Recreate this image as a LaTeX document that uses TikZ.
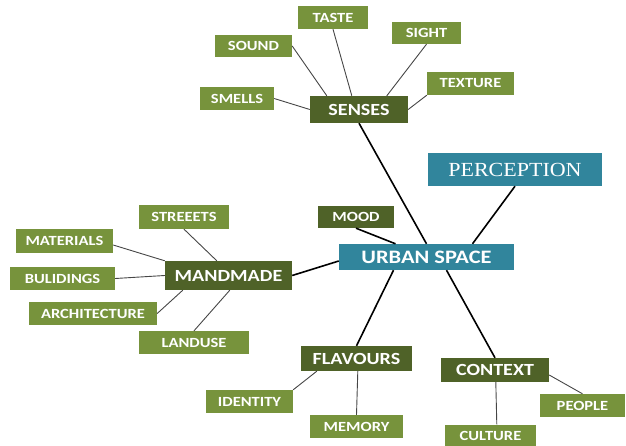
\documentclass[tikz,border=0pt]{standalone}
\usepackage{fontspec}
\setmainfont{Carlito}[FakeStretch=1.18]
\newfontfamily\percfont{Liberation Serif}[FakeStretch=1.1]
\usepackage{tikz}
\usetikzlibrary{calc}
\definecolor{LeafGreen}{RGB}{119,147,60}
\definecolor{DarkGreen}{RGB}{79,98,40}
\definecolor{TealBlue}{RGB}{49,133,156}
\definecolor{LinkGray}{RGB}{70,70,70}

\begin{document}
\begin{tikzpicture}[x=1pt,y=-1pt,
    leaf/.style={fill=LeafGreen, text=white, inner sep=0pt, minimum height=23pt,
      font=\fontsize{14}{14}\selectfont\bfseries},
    branch/.style={fill=DarkGreen, text=white, inner sep=0pt, minimum height=26pt,
      font=\fontsize{17}{17}\selectfont\bfseries},
    hub/.style={fill=TealBlue, text=white, inner sep=0pt, minimum height=26pt,
      font=\fontsize{19}{19}\selectfont\bfseries},
    mainlink/.style={black, line width=1.6pt},
    sublink/.style={LinkGray, line width=0.9pt}]
    \useasboundingbox (0,0) rectangle (626,446);
    %%Centre
    \node[hub, minimum width=175pt] (urban) at (426.5,257) {URBAN SPACE};
    \node[hub, minimum width=174pt, minimum height=33pt, font=\percfont\fontsize{20}{20}\selectfont]
      (perception) at (515,169.5) {PERCEPTION};
    %%Branches
    \node[branch, minimum width=98pt, minimum height=27pt] (senses) at (359,109.5) {SENSES};
    \node[branch, minimum width=76pt, minimum height=22pt, font=\fontsize{14}{14}\selectfont\bfseries]
      (mood) at (356,217) {MOOD};
    \node[branch, minimum width=127pt, minimum height=29pt] (mandmade) at (228.5,275.5) {MANDMADE};
    \node[branch, minimum width=111pt, minimum height=25pt] (flavours) at (356.5,358.5) {FLAVOURS};
    \node[branch, minimum width=108pt, minimum height=24pt] (context) at (495,370) {CONTEXT};
    %%Senses
    \node[leaf, minimum width=70pt] (taste) at (333,17.5) {TASTE};
    \node[leaf, minimum width=77pt, minimum height=22pt] (sound) at (253.5,46) {SOUND};
    \node[leaf, minimum width=69pt, minimum height=22pt] (sight) at (426.5,33) {SIGHT};
    \node[leaf, minimum width=87pt] (texture) at (470.5,83.5) {TEXTURE};
    \node[leaf, minimum width=74pt] (smells) at (237,98.5) {SMELLS};
    %%Mandmade
    \node[leaf, minimum width=90pt, minimum height=24pt] (streeets) at (184,217) {STREEETS};
    \node[leaf, minimum width=97pt, minimum height=24pt] (materials) at (64.5,241) {MATERIALS};
    \node[leaf, minimum width=105pt] (bulidings) at (62.5,278.5) {BULIDINGS};
    \node[leaf, minimum width=128pt] (architecture) at (93,313.5) {ARCHITECTURE};
    \node[leaf, minimum width=110pt] (landuse) at (194,342.5) {LANDUSE};
    %%Flavours and context
    \node[leaf, minimum width=87pt] (identity) at (249.5,401.5) {IDENTITY};
    \node[leaf, minimum width=93pt] (memory) at (356.5,426.5) {MEMORY};
    \node[leaf, minimum width=85pt] (people) at (582.5,405.5) {PEOPLE};
    \node[leaf, minimum width=91pt] (culture) at (490.5,436) {CULTURE};
    %%Main links
    \draw[mainlink] (senses.south) -- (urban.north);
    \draw[mainlink] (perception.south) -- ([xshift=46pt]urban.north);
    \draw[mainlink] (mood.south) -- ([xshift=-31pt]urban.north);
    \draw[mainlink] (mandmade.east) -- ([yshift=-4pt]urban.west);
    \draw[mainlink] ([xshift=-33pt]urban.south) -- (flavours.north);
    \draw[mainlink] ([xshift=20pt]urban.south) -- (context.north);
    %%Sub links
    \draw[sublink] (smells.east) -- (senses.west);
    \draw[sublink] (sound.east) -- ([xshift=17pt]senses.north west);
    \draw[sublink] (taste.south) -- ([xshift=42pt]senses.north west);
    \draw[sublink] (sight.south) -- ([xshift=77pt]senses.north west);
    \draw[sublink] (texture.south west) -- (senses.east);
    \draw[sublink] (streeets.south) -- ([xshift=52pt]mandmade.north west);
    \draw[sublink] ([yshift=-4pt]materials.east) -- (mandmade.north west);
    \draw[sublink] (bulidings.east) -- (mandmade.west);
    \draw[sublink] (architecture.east) -- ([xshift=18pt]mandmade.south west);
    \draw[sublink] (landuse.north) -- ([xshift=65pt]mandmade.south west);
    \draw[sublink] (identity.north east) -- ([xshift=16pt]flavours.south west);
    \draw[sublink] (memory.north) -- ([xshift=57pt]flavours.south west);
    \draw[sublink] ([xshift=52pt]culture.north west) -- ([xshift=55pt]context.south west);
    \draw[sublink] (people.north) -- ([yshift=-5pt]context.east);
\end{tikzpicture}
\end{document}
